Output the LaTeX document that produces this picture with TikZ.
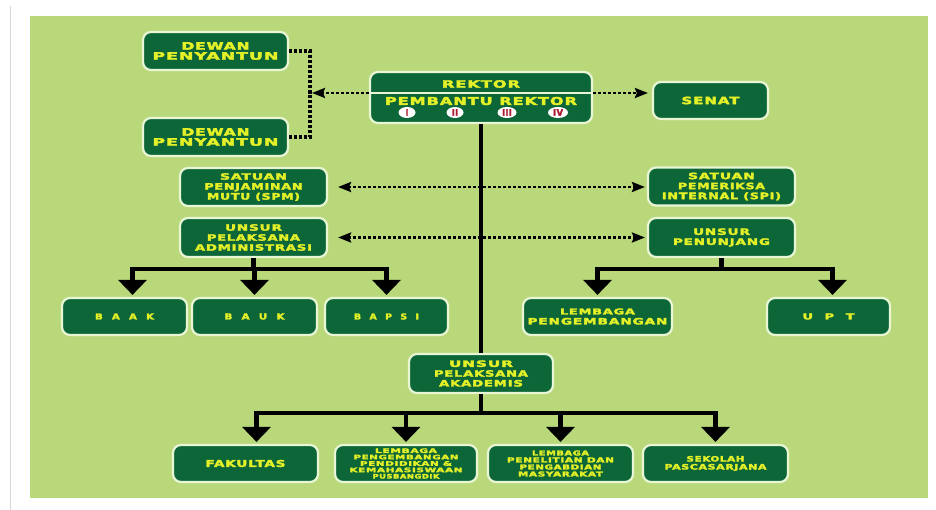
\documentclass[tikz,border=0pt]{standalone}
\usepackage{fontspec}
\usepackage{graphicx}
\usetikzlibrary{arrows.meta,shapes.geometric,calc}
\newfontfamily\orgfont[LetterSpace=6,FakeBold=3]{DejaVu Sans}
\definecolor{bggreen}{RGB}{184,216,122}
\definecolor{boxgreen}{RGB}{12,102,56}
\definecolor{boxrim}{RGB}{232,246,214}
\definecolor{txtyellow}{RGB}{228,240,40}
\definecolor{numred}{RGB}{170,25,45}
\definecolor{edgegray}{RGB}{215,215,215}
\newcommand{\tl}[3]{\resizebox{#1pt}{#2pt}{\orgfont\bfseries #3}}
\newcommand{\gap}{\hspace{0.9em}}
\tikzset{
  orgbox/.style={draw=boxrim, line width=2.2pt, fill=boxgreen, rounded corners=8pt,
    inner sep=0pt, align=center, text=txtyellow},
  lsp/.style={font=\fontsize{5}{#1}\selectfont},
  lbl/.style={inner sep=0pt, text=txtyellow},
  tree/.style={line width=4.5pt, draw=black},
  treearrow/.style={tree, shorten >=2pt, -{Triangle[width=28pt,length=15pt]}},
  dotarrow/.style={line width=2.5pt, dash pattern=on 2.5pt off 2.5pt,
    -{Stealth[length=13pt,width=10pt,inset=2pt]}},
  dotdouble/.style={line width=2.5pt, dash pattern=on 2.5pt off 2.5pt,
    {Stealth[length=13pt,width=10pt,inset=2pt]}-{Stealth[length=13pt,width=10pt,inset=2pt]}},
  bracketline/.style={line width=3.5pt, dash pattern=on 3pt off 2pt},
  numoval/.style={ellipse, fill=white, minimum width=17pt, minimum height=11pt,
    inner sep=0pt, text=numred},
}
\begin{document}
\begin{tikzpicture}[x=1pt,y=-1pt]
\useasboundingbox (0,0) rectangle (936,510);
\fill[white] (0,0) rectangle (936,510);
\draw[edgegray, line width=1pt] (10,6) -- (10,510);
\fill[bggreen] (30,16) rectangle (928,498);

% top level
\node[orgbox, minimum width=145pt, minimum height=38pt, lsp=10] (dewan1) at (215.5,51)
  {\tl{68}{7.5}{DEWAN}\\\tl{126}{7.5}{PENYANTUN}};
\node[orgbox, minimum width=145pt, minimum height=38pt, lsp=10] (dewan2) at (215.5,137)
  {\tl{68}{7.5}{DEWAN}\\\tl{126}{7.5}{PENYANTUN}};
\node[orgbox, minimum width=222pt, minimum height=51pt] (rektor) at (481,97.5) {};
\coordinate (divy) at (0,93);
\draw[boxrim, line width=1.5pt] (rektor.west |- divy) -- (rektor.east |- divy);
\node[lbl] (rektorlbl) at (481,84) {\tl{78}{7.5}{REKTOR}};
\node[lbl] (prlbl) at (481,101) {\tl{192}{8}{PEMBANTU REKTOR}};
\node[numoval] (n1) at (407,112.5) {\tl{2.5}{6.5}{I}};
\node[numoval] (n2) at (455,112.5) {\tl{6}{6.5}{II}};
\node[numoval, minimum width=19pt] (n3) at (507,112.5) {\tl{9.5}{6.5}{III}};
\node[numoval, minimum width=20pt] (n4) at (558,112.5) {\tl{10}{6.5}{IV}};
\node[orgbox, minimum width=115pt, minimum height=37pt] (senat) at (710.5,100.5)
  {\tl{58}{7.5}{SENAT}};

% staff units
\node[orgbox, minimum width=147pt, minimum height=38pt, lsp=10] (spm) at (253.5,187)
  {\tl{67}{6.5}{SATUAN}\\\tl{98}{6.5}{PENJAMINAN}\\\tl{93}{6.8}{MUTU (SPM)}};
\node[orgbox, minimum width=147pt, minimum height=38pt, lsp=10] (spi) at (721.5,186.5)
  {\tl{67}{6.5}{SATUAN}\\\tl{87}{6.5}{PEMERIKSA}\\\tl{119}{6.8}{INTERNAL (SPI)}};
\node[orgbox, minimum width=147pt, minimum height=39pt, lsp=10] (admin) at (253.5,237.5)
  {\tl{57}{6.5}{UNSUR}\\\tl{93}{6.5}{PELAKSANA}\\\tl{117}{6.5}{ADMINISTRASI}};
\node[orgbox, minimum width=147pt, minimum height=39pt, lsp=10] (penunjang) at (721.5,237.5)
  {\tl{57}{6.5}{UNSUR}\\\tl{97}{6.5}{PENUNJANG}};

% third row
\node[orgbox, minimum width=125pt, minimum height=37pt] (baak) at (124.5,316.5)
  {\tl{59}{6}{B\gap A\gap A\gap K}};
\node[orgbox, minimum width=125pt, minimum height=37pt] (bauk) at (254.5,316.5)
  {\tl{60}{6}{B\gap A\gap U\gap K}};
\node[orgbox, minimum width=123pt, minimum height=37pt] (bapsi) at (386.5,316.5)
  {\tl{65}{6}{B\gap A\gap P\gap S\gap I}};
\node[orgbox, minimum width=149pt, minimum height=37pt, lsp=10] (lp) at (597.5,316.5)
  {\tl{75}{6}{LEMBAGA}\\\tl{140}{6.5}{PENGEMBANGAN}};
\node[orgbox, minimum width=123pt, minimum height=37pt] (upt) at (828.5,316.5)
  {\tl{52}{6}{U\gap P\gap T}};

% academic
\node[orgbox, minimum width=144pt, minimum height=39pt, lsp=9.8] (akademis) at (481,373.5)
  {\tl{64}{6.5}{UNSUR}\\\tl{94}{6.5}{PELAKSANA}\\\tl{84}{6.5}{AKADEMIS}};
\node[orgbox, minimum width=145pt, minimum height=37pt] (fakultas) at (245.5,463.5)
  {\tl{80}{7}{FAKULTAS}};
\node[orgbox, minimum width=142pt, minimum height=37pt, lsp=6.4] (lppkp) at (406,463.5)
  {\tl{62}{4.6}{LEMBAGA}\\\tl{105}{4.6}{PENGEMBANGAN}\\\tl{92}{4.6}{PENDIDIKAN \&}\\\tl{113}{4.6}{KEMAHASISWAAN}\\\tl{67}{4.6}{PUSBANGDIK}};
\node[orgbox, minimum width=145pt, minimum height=37pt, lsp=7] (lppm) at (560.5,463.5)
  {\tl{57}{5}{LEMBAGA}\\\tl{107}{5}{PENELITIAN DAN}\\\tl{82}{5}{PENGABDIAN}\\\tl{85}{5}{MASYARAKAT}};
\node[orgbox, minimum width=145pt, minimum height=37pt, lsp=8] (sekolah) at (715.5,463.5)
  {\tl{58}{5.5}{SEKOLAH}\\\tl{102}{5.5}{PASCASARJANA}};

% solid tree
\draw[tree] (rektor.south) -- (akademis.north);
\draw[tree] (admin.south) -- ++(0,11) coordinate (adj);
\draw[treearrow] (adj) -| ([xshift=8pt]baak.north);
\draw[treearrow] (adj) -| (bauk.north);
\draw[treearrow] (adj) -| (bapsi.north);
\draw[tree] (penunjang.south) -- ++(0,11) coordinate (pnj);
\draw[treearrow] (pnj) -| (lp.north);
\draw[treearrow] (pnj) -| ([xshift=4pt]upt.north);
\draw[tree] (akademis.south) -- ++(0,19) coordinate (akj);
\draw[treearrow] (akj) -| ([xshift=11pt]fakultas.north);
\draw[treearrow] (akj) -| (lppkp.north);
\draw[treearrow] (akj) -| (lppm.north);
\draw[treearrow] (akj) -| (sekolah.north);

% dotted links
\coordinate (bra) at (310,93);
\draw[bracketline] (dewan1.east) -| (bra) |- (dewan2.east);
\draw[dotarrow, shorten >=2pt] (rektor.west |- divy) -- (bra);
\draw[dotarrow, shorten >=4pt] (rektor.east |- divy) -- (senat.west |- divy);
\draw[dotdouble, shorten <=10pt, shorten >=2pt] (spm.east) -- (spi.west |- spm.east);
\draw[dotdouble, shorten <=10pt, shorten >=2pt] (admin.east) -- (penunjang.west);
\end{tikzpicture}
\end{document}
